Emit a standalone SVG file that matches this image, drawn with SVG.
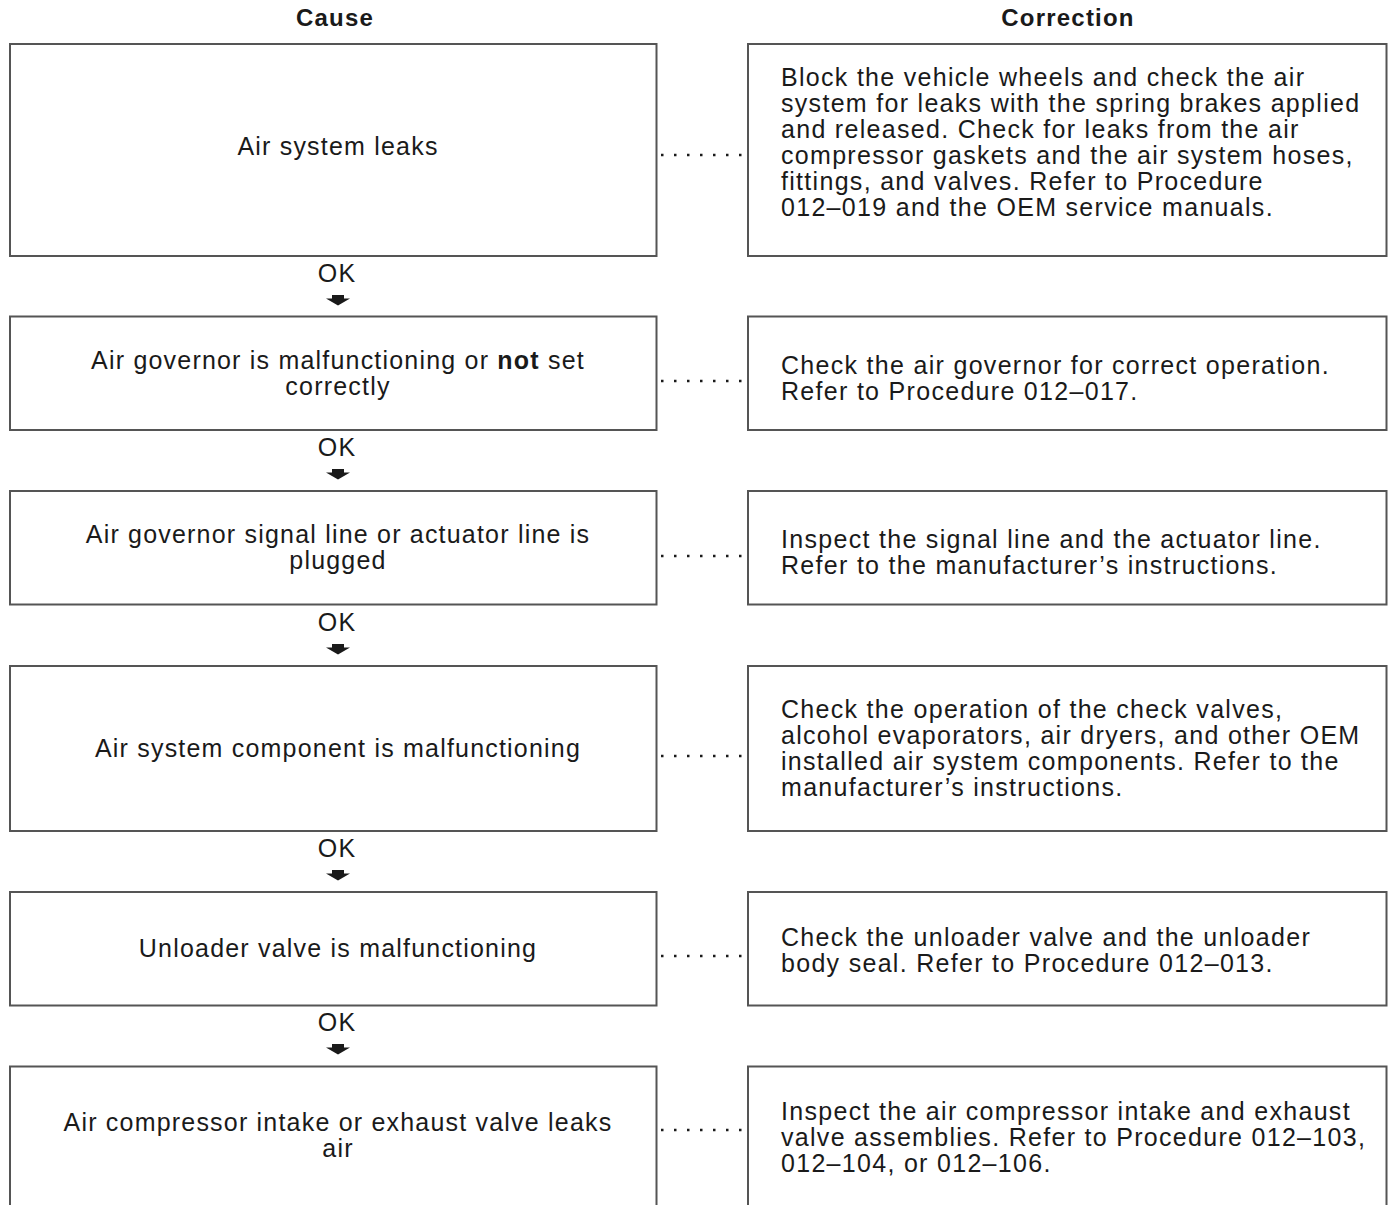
<svg xmlns="http://www.w3.org/2000/svg" width="1393" height="1205" viewBox="0 0 1393 1205">
  <style>
    .box { fill: #ffffff; stroke: #555555; stroke-width: 2; }
    .hdr { font-family: "Liberation Sans", Arial, sans-serif; font-size: 24px; font-weight: bold; letter-spacing: 1.2px; fill: #1a1a1a; text-anchor: middle; }
    .cause { font-family: "Liberation Sans", Arial, sans-serif; font-size: 25px; letter-spacing: 1.2px; fill: #1a1a1a; text-anchor: middle; }
    .fix { font-family: "Liberation Sans", Arial, sans-serif; font-size: 25px; letter-spacing: 1.3px; fill: #1a1a1a; }
    .ok { font-family: "Liberation Sans", Arial, sans-serif; font-size: 25px; letter-spacing: 1.2px; fill: #1a1a1a; text-anchor: middle; }
    .dots { stroke: #1a1a1a; stroke-width: 2.5; stroke-dasharray: 2.5 10.5; fill: none; }
    .arrow { fill: #1a1a1a; }
  </style>
  <defs>
    <path id="down" class="arrow" d="M-6,0 H6 V3.5 H12 L0,10.5 L-12,3.5 H-6 Z"/>
  </defs>
  <rect width="1393" height="1205" fill="#ffffff"/>

  <text class="hdr" x="335" y="26">Cause</text>
  <text class="hdr" x="1068" y="26">Correction</text>

  <g id="cause1"><rect class="box" x="10" y="44" width="646.5" height="212"/>
    <text class="cause" x="338" y="155">Air system leaks</text></g>
  <g id="fix1"><rect class="box" x="748" y="44" width="638.5" height="212"/>
    <text class="fix" x="781" y="86">Block the vehicle wheels and check the air</text>
    <text class="fix" x="781" y="112">system for leaks with the spring brakes applied</text>
    <text class="fix" x="781" y="138">and released. Check for leaks from the air</text>
    <text class="fix" x="781" y="164">compressor gaskets and the air system hoses,</text>
    <text class="fix" x="781" y="190">fittings, and valves. Refer to Procedure</text>
    <text class="fix" x="781" y="216">012–019 and the OEM service manuals.</text></g>

  <g id="cause2"><rect class="box" x="10" y="316.5" width="646.5" height="113.5"/>
    <text class="cause" x="338" y="369">Air governor is malfunctioning or <tspan font-weight="bold">not</tspan> set</text>
    <text class="cause" x="338" y="395">correctly</text></g>
  <g id="fix2"><rect class="box" x="748" y="316.5" width="638.5" height="113.5"/>
    <text class="fix" x="781" y="374">Check the air governor for correct operation.</text>
    <text class="fix" x="781" y="400">Refer to Procedure 012–017.</text></g>

  <g id="cause3"><rect class="box" x="10" y="491" width="646.5" height="113.5"/>
    <text class="cause" x="338" y="543">Air governor signal line or actuator line is</text>
    <text class="cause" x="338" y="569">plugged</text></g>
  <g id="fix3"><rect class="box" x="748" y="491" width="638.5" height="113.5"/>
    <text class="fix" x="781" y="548">Inspect the signal line and the actuator line.</text>
    <text class="fix" x="781" y="574">Refer to the manufacturer’s instructions.</text></g>

  <g id="cause4"><rect class="box" x="10" y="666" width="646.5" height="165"/>
    <text class="cause" x="338" y="757">Air system component is malfunctioning</text></g>
  <g id="fix4"><rect class="box" x="748" y="666" width="638.5" height="165"/>
    <text class="fix" x="781" y="718">Check the operation of the check valves,</text>
    <text class="fix" x="781" y="744">alcohol evaporators, air dryers, and other OEM</text>
    <text class="fix" x="781" y="770">installed air system components. Refer to the</text>
    <text class="fix" x="781" y="796">manufacturer’s instructions.</text></g>

  <g id="cause5"><rect class="box" x="10" y="892" width="646.5" height="113.5"/>
    <text class="cause" x="338" y="957">Unloader valve is malfunctioning</text></g>
  <g id="fix5"><rect class="box" x="748" y="892" width="638.5" height="113.5"/>
    <text class="fix" x="781" y="946">Check the unloader valve and the unloader</text>
    <text class="fix" x="781" y="972">body seal. Refer to Procedure 012–013.</text></g>

  <g id="cause6"><rect class="box" x="10" y="1066.5" width="646.5" height="160"/>
    <text class="cause" x="338" y="1131">Air compressor intake or exhaust valve leaks</text>
    <text class="cause" x="338" y="1157">air</text></g>
  <g id="fix6"><rect class="box" x="748" y="1066.5" width="638.5" height="160"/>
    <text class="fix" x="781" y="1120">Inspect the air compressor intake and exhaust</text>
    <text class="fix" x="781" y="1146">valve assemblies. Refer to Procedure 012–103,</text>
    <text class="fix" x="781" y="1172">012–104, or 012–106.</text></g>

  <g id="connectors">
    <!-- dotted leaders from each cause to its correction -->
    <path class="dots" d="M661,155 H746"/>
    <path class="dots" d="M661,381 H746"/>
    <path class="dots" d="M661,556 H746"/>
    <path class="dots" d="M661,756 H746"/>
    <path class="dots" d="M661,956 H746"/>
    <path class="dots" d="M661,1130 H746"/>
    <!-- OK labels with down arrows between cause boxes -->
    <text class="ok" x="337" y="282">OK</text><use href="#down" x="338" y="295"/>
    <text class="ok" x="337" y="456">OK</text><use href="#down" x="338" y="469"/>
    <text class="ok" x="337" y="631">OK</text><use href="#down" x="338" y="644"/>
    <text class="ok" x="337" y="857">OK</text><use href="#down" x="338" y="870"/>
    <text class="ok" x="337" y="1031">OK</text><use href="#down" x="338" y="1044"/>
  </g>
</svg>
